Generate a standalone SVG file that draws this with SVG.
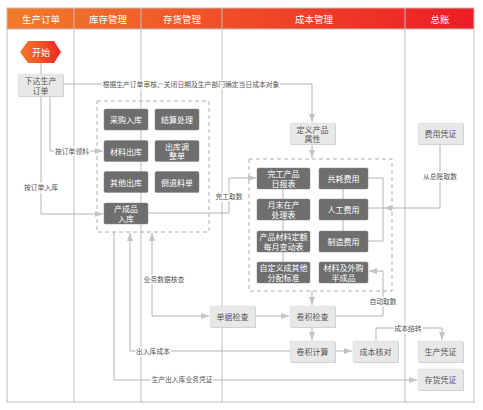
<svg xmlns="http://www.w3.org/2000/svg" width="483" height="410" viewBox="0 0 483 410">
<defs>
<linearGradient id="hg" x1="0" y1="0" x2="1" y2="0">
<stop offset="0" stop-color="#f27b2a"/>
<stop offset="1" stop-color="#ee1c25"/>
</linearGradient>
<linearGradient id="sg" x1="0" y1="0" x2="1" y2="0">
<stop offset="0" stop-color="#f47a2a"/>
<stop offset="1" stop-color="#ec2a24"/>
</linearGradient>
<marker id="ar" viewBox="0 0 8 6" refX="8" refY="3" markerWidth="8" markerHeight="6" markerUnits="userSpaceOnUse" orient="auto">
<path d="M0,0 L8,3 L0,6 z" fill="#c4c4c4"/>
</marker>
<style>
text{font-family:"Noto Sans CJK SC","Noto Sans",sans-serif;text-anchor:middle;dominant-baseline:central}
.hd{fill:#fff;font-size:9.5px}
.lb rect.b{fill:#e8e8e8;stroke:#dcdcdc;stroke-width:0.5}
.lb rect.s{fill:#cfcfcf}
.lb text{fill:#555;font-size:8px}
.db rect{fill:#6e6e6e;stroke:#8a8a8a;stroke-width:0.5}
.db text{fill:#fff;font-size:8px}
.cn path{fill:none;stroke:#b4b4b4;stroke-width:1}
.lbl{fill:#555;font-size:6.8px;stroke:#fff;stroke-width:3;paint-order:stroke;stroke-linejoin:round}
.dash{fill:none;stroke:#b0b0b0;stroke-width:1;stroke-dasharray:4 3}
</style>
</defs>
<rect x="0" y="0" width="483" height="410" fill="#fff"/>
<!-- lanes -->
<g id="lanes">
<rect x="7" y="8" width="467" height="21" fill="url(#hg)"/>
<rect x="7" y="8" width="467" height="394" fill="none" stroke="#bdbdbd" stroke-width="1"/>
<path d="M74,8V402M141,8V402M222,8V402M405,8V402M7,29H474" stroke="#bdbdbd" stroke-width="1" fill="none"/>
<text class="hd" x="41" y="19">生产订单</text>
<text class="hd" x="108" y="19">库存管理</text>
<text class="hd" x="182" y="19">存货管理</text>
<text class="hd" x="314" y="19">成本管理</text>
<text class="hd" x="440" y="19">总账</text>
</g>
<rect class="dash" x="97" y="101" width="112" height="131"/>
<rect class="dash" x="249" y="159" width="143" height="132"/>
<!-- connectors -->
<g id="connectors" class="cn">
<path d="M41,63V74"/>
<path d="M63,84H312V122" marker-end="url(#ar)"/>
<path d="M312,144V158" marker-end="url(#ar)"/>
<path d="M50,96V151H103" marker-end="url(#ar)"/>
<path d="M41,96V214H103" marker-end="url(#ar)"/>
<path d="M148,213H229V178H256" marker-end="url(#ar)"/>
<path d="M283,189V199M283,220V231M283,252V262M343,189V199M343,220V231"/>
<path d="M368,178H383V241H368"/>
<path d="M440,144V208H384" marker-end="url(#ar)"/>
<path d="M384,208H368"/>
<path d="M312,291V305" marker-end="url(#ar)"/>
<path d="M255,316H289" marker-end="url(#ar)"/>
<path d="M335,316H383V271H369" marker-end="url(#ar)"/>
<path d="M312,327V340" marker-end="url(#ar)"/>
<path d="M335,351H352" marker-end="url(#ar)"/>
<path d="M376,341V328H442V340" marker-end="url(#ar)"/>
<path d="M152,316V233" marker-end="url(#ar)"/>
<path d="M152,316H209" marker-end="url(#ar)"/>
<path d="M290,351H130V233" marker-end="url(#ar)"/>
<path d="M114,232V380H417" marker-end="url(#ar)"/>
</g>
<g id="labels">
<text class="lbl" x="191" y="84">根据生产订单审核、关闭日期及生产部门确定当日成本对象</text>
<text class="lbl" x="72" y="151">按订单领料</text>
<text class="lbl" x="41" y="187">按订单入库</text>
<text class="lbl" x="229" y="196">完工取数</text>
<text class="lbl" x="440" y="176">从总账取数</text>
<text class="lbl" x="164" y="279">业务数据核查</text>
<text class="lbl" x="383" y="301">自动取数</text>
<text class="lbl" x="408" y="328">成本结转</text>
<text class="lbl" x="153" y="351">出入库成本</text>
<text class="lbl" x="182" y="379">生产出入库业务凭证</text>
</g>
<!-- nodes -->
<g id="start">
<polygon points="20,52 28,41 54,41 61,52 54,63 28,63" fill="url(#sg)"/>
<text x="41" y="52" fill="#fff" font-size="9">开始</text>
</g>
<g id="n_xiada" class="lb"><rect class="s" x="19" y="75" width="45" height="22"/><rect class="b" x="18" y="74" width="45" height="22"/><text x="40.5" y="80.5">下达生产</text><text x="40.5" y="90">订单</text></g>
<g id="n_dingyi" class="lb"><rect class="s" x="291" y="124" width="45" height="21"/><rect class="b" x="290" y="123" width="45" height="21"/><text x="312.5" y="129">定义产品</text><text x="312.5" y="138.5">属性</text></g>
<g id="n_feiyong" class="lb"><rect class="s" x="419" y="124" width="45" height="21"/><rect class="b" x="418" y="123" width="45" height="21"/><text x="440.5" y="133.5">费用凭证</text></g>
<g id="n_danju" class="lb"><rect class="s" x="211" y="307" width="45" height="21"/><rect class="b" x="210" y="306" width="45" height="21"/><text x="232.5" y="316.5">单据检查</text></g>
<g id="n_juanjijc" class="lb"><rect class="s" x="291" y="307" width="45" height="21"/><rect class="b" x="290" y="306" width="45" height="21"/><text x="312.5" y="316.5">卷积检查</text></g>
<g id="n_juanjijs" class="lb"><rect class="s" x="291" y="342" width="45" height="21"/><rect class="b" x="290" y="341" width="45" height="21"/><text x="312.5" y="351.5">卷积计算</text></g>
<g id="n_hedui" class="lb"><rect class="s" x="354" y="342" width="45" height="21"/><rect class="b" x="353" y="341" width="45" height="21"/><text x="375.5" y="351.5">成本核对</text></g>
<g id="n_shengchan" class="lb"><rect class="s" x="419" y="342" width="45" height="21"/><rect class="b" x="418" y="341" width="45" height="21"/><text x="440.5" y="351.5">生产凭证</text></g>
<g id="n_cunhuo" class="lb"><rect class="s" x="419" y="370" width="45" height="21"/><rect class="b" x="418" y="369" width="45" height="21"/><text x="440.5" y="379.5">存货凭证</text></g>
<g id="n_caigou" class="db"><rect x="104" y="109" width="44" height="21" rx="1.5"/><text x="126" y="119.5">采购入库</text></g>
<g id="n_jiesuan" class="db"><rect x="155" y="109" width="44" height="21" rx="1.5"/><text x="177" y="119.5">结算处理</text></g>
<g id="n_cailiao" class="db"><rect x="104" y="140.5" width="44" height="21" rx="1.5"/><text x="126" y="151">材料出库</text></g>
<g id="n_tiaozheng" class="db"><rect x="155" y="140.5" width="44" height="21" rx="1.5"/><text x="177" y="146">出库调</text><text x="177" y="155.5">整单</text></g>
<g id="n_qita" class="db"><rect x="104" y="171.5" width="44" height="21" rx="1.5"/><text x="126" y="182">其他出库</text></g>
<g id="n_daotui" class="db"><rect x="155" y="171.5" width="44" height="21" rx="1.5"/><text x="177" y="182">倒退料单</text></g>
<g id="n_chanchengpin" class="db"><rect x="104" y="203" width="44" height="21" rx="1.5"/><text x="126" y="208.5">产成品</text><text x="126" y="218">入库</text></g>
<g id="n_wangong" class="db"><rect x="257" y="168" width="53" height="21" rx="1.5"/><text x="283.5" y="173.5">完工产品</text><text x="283.5" y="183">日报表</text></g>
<g id="n_gonghao" class="db"><rect x="319" y="168" width="49" height="21" rx="1.5"/><text x="343.5" y="178.5">共耗费用</text></g>
<g id="n_yuemo" class="db"><rect x="257" y="199" width="53" height="21" rx="1.5"/><text x="283.5" y="204.5">月末在产</text><text x="283.5" y="214">处理表</text></g>
<g id="n_rengong" class="db"><rect x="319" y="199" width="49" height="21" rx="1.5"/><text x="343.5" y="209.5">人工费用</text></g>
<g id="n_dinge" class="db"><rect x="257" y="231" width="53" height="21" rx="1.5"/><text x="283.5" y="236.5">产品材料定额</text><text x="283.5" y="246">每月变动表</text></g>
<g id="n_zhizao" class="db"><rect x="319" y="231" width="49" height="21" rx="1.5"/><text x="343.5" y="241.5">制造费用</text></g>
<g id="n_zidingyi" class="db"><rect x="257" y="262" width="53" height="21" rx="1.5"/><text x="283.5" y="267.5">自定义成其他</text><text x="283.5" y="277">分配标准</text></g>
<g id="n_waigou" class="db"><rect x="319" y="262" width="49" height="21" rx="1.5"/><text x="343.5" y="267.5">材料及外购</text><text x="343.5" y="277">半成品</text></g>
</svg>
